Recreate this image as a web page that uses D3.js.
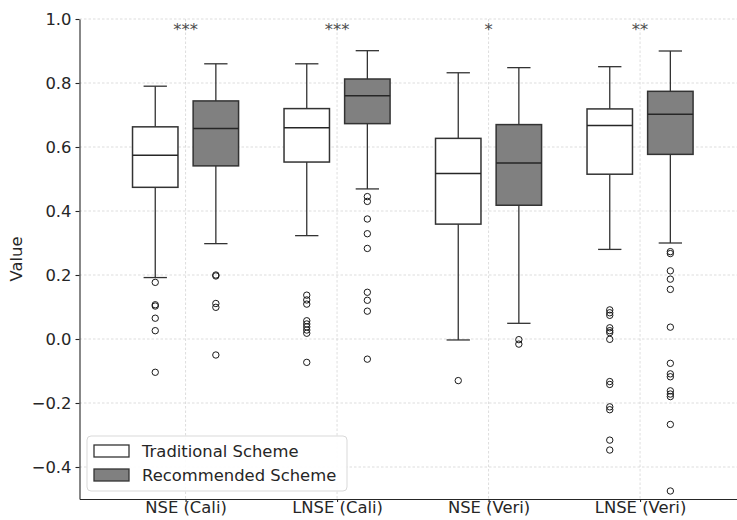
<!DOCTYPE html>
<html lang="en">
<head>
    <meta charset="UTF-8">
    <title>Traditional vs Recommended Scheme</title>
    <script src="https://d3js.org/d3.v7.min.js"></script>
    <style>
        body {
            margin: 0;
            background: #ffffff;
            font-family: "DejaVu Sans", sans-serif;
        }
        svg { display: block; }
        .axis text {
            font-family: "DejaVu Sans", sans-serif;
            font-size: 16.4px;
            fill: #262626;
        }
        .axis path, .axis line {
            stroke: #262626;
            stroke-width: 1.1;
        }
        .grid line {
            stroke: #d4d4d4;
            stroke-width: 0.8;
            stroke-dasharray: 2.5,2;
        }
        .legend-text {
            font-size: 16.4px;
            fill: #262626;
        }
    </style>
</head>
<body>
<svg id="chart" width="737" height="520"></svg>
<script>
    // chart data
    const categories = ["NSE (Cali)", "LNSE (Cali)", "NSE (Veri)", "LNSE (Veri)"];
    const schemes = ["Traditional Scheme", "Recommended Scheme"];
    const stars = ["***", "***", "*", "**"];
    const yTicks = [-0.4, -0.2, 0.0, 0.2, 0.4, 0.6, 0.8, 1.0];

    // Traditional Scheme box stats
    const tradLow = [0.192, 0.323, -0.003, 0.280];
    const tradQ1 = [0.474, 0.553, 0.359, 0.515];
    const tradMed = [0.574, 0.660, 0.517, 0.667];
    const tradQ3 = [0.663, 0.720, 0.627, 0.719];
    const tradHigh = [0.790, 0.860, 0.832, 0.851];
    const tradOutliers = [
        [0.177, 0.107, 0.103, 0.065, 0.026, -0.104],
        [0.137, 0.122, 0.109, 0.057, 0.047, 0.038, 0.028, 0.018, -0.073],
        [-0.130],
        [0.091, 0.082, 0.074, 0.035, 0.026, 0.020, -0.001, -0.133, -0.142, -0.212, -0.221, -0.316, -0.347]
    ];

    // Recommended Scheme box stats
    const recLow = [0.298, 0.469, 0.049, 0.300];
    const recQ1 = [0.541, 0.673, 0.418, 0.577];
    const recMed = [0.658, 0.760, 0.550, 0.702];
    const recQ3 = [0.744, 0.8125, 0.670, 0.774];
    const recHigh = [0.860, 0.901, 0.848, 0.900];
    const recOutliers = [
        [0.200, 0.197, 0.111, 0.099, -0.050],
        [0.445, 0.430, 0.375, 0.329, 0.283, 0.146, 0.121, 0.087, -0.063],
        [-0.002, -0.016],
        [0.273, 0.267, 0.213, 0.187, 0.155, 0.037, -0.076, -0.109, -0.118, -0.162, -0.172, -0.180, -0.267, -0.475]
    ];

    const fills = ["#ffffff", "#808080"];
    const edge = "#333333";

    const svg = d3.select("#chart");
    const plotTop = 19, plotBottom = 499, plotLeft = 79.5, step = 151.5;

    const x = d3.scaleLinear()
        .domain([0.3, 4.7])
        .range([plotLeft, plotLeft + 4.4 * step]);
    const y = d3.scaleLinear()
        .domain([-0.5, 1.0])
        .range([plotBottom, plotTop]);

    // grid
    const grid = svg.append("g").attr("class", "grid");
    grid.selectAll(".gy").data(yTicks).enter().append("line")
        .attr("x1", plotLeft).attr("x2", 737)
        .attr("y1", d => y(d)).attr("y2", d => y(d));
    grid.selectAll(".gx").data(categories).enter().append("line")
        .attr("x1", (d, i) => x(i + 1)).attr("x2", (d, i) => x(i + 1))
        .attr("y1", plotTop).attr("y2", plotBottom);

    // box data
    const boxes = [];
    categories.forEach((c, i) => {
        boxes.push({pos: i + 1 - 0.2, s: 0, low: tradLow[i], q1: tradQ1[i], med: tradMed[i], q3: tradQ3[i], high: tradHigh[i], out: tradOutliers[i]});
        boxes.push({pos: i + 1 + 0.2, s: 1, low: recLow[i], q1: recQ1[i], med: recMed[i], q3: recQ3[i], high: recHigh[i], out: recOutliers[i]});
    });

    const g = svg.append("g");
    const half = 0.15, cap = 0.077;

    boxes.forEach(b => {
        const bg = g.append("g");
        // whiskers
        bg.append("line")
            .attr("x1", x(b.pos)).attr("x2", x(b.pos))
            .attr("y1", y(b.q1)).attr("y2", y(b.low))
            .attr("stroke", edge).attr("stroke-width", 1.3);
        bg.append("line")
            .attr("x1", x(b.pos)).attr("x2", x(b.pos))
            .attr("y1", y(b.q3)).attr("y2", y(b.high))
            .attr("stroke", edge).attr("stroke-width", 1.3);
        [b.low, b.high].forEach(v => {
            bg.append("line")
                .attr("x1", x(b.pos - cap)).attr("x2", x(b.pos + cap))
                .attr("y1", y(v)).attr("y2", y(v))
                .attr("stroke", edge).attr("stroke-width", 1.3);
        });
        // box
        bg.append("rect")
            .attr("x", x(b.pos - half))
            .attr("y", y(b.q3))
            .attr("width", x(b.pos + half) - x(b.pos - half))
            .attr("height", y(b.q1) - y(b.q3))
            .attr("fill", fills[b.s])
            .attr("stroke", edge).attr("stroke-width", 1.5);
        // median
        bg.append("line")
            .attr("x1", x(b.pos - half)).attr("x2", x(b.pos + half))
            .attr("y1", y(b.med)).attr("y2", y(b.med))
            .attr("stroke", "#262626").attr("stroke-width", 1.5);
        // outliers
        bg.selectAll("circle").data(b.out).enter().append("circle")
            .attr("cx", x(b.pos))
            .attr("cy", d => y(d))
            .attr("r", 3.2)
            .attr("fill", "none")
            .attr("stroke", "#1a1a1a")
            .attr("stroke-width", 1);
    });

    // significance stars
    g.selectAll(".star").data(stars).enter().append("text")
        .attr("x", (d, i) => x(i + 1))
        .attr("y", 35)
        .attr("text-anchor", "middle")
        .attr("font-size", "16.4px")
        .attr("fill", "#4d4d4d")
        .text(d => d);

    // axes
    svg.append("g")
        .attr("class", "axis")
        .attr("transform", `translate(${plotLeft},0)`)
        .call(d3.axisLeft(y).tickValues(yTicks).tickFormat(d3.format(".1f")).tickSize(4).tickSizeOuter(0).tickPadding(4))
        .call(a => a.selectAll("text").attr("dy", "0.35em"));

    svg.append("g")
        .attr("class", "axis")
        .attr("transform", `translate(0,${plotBottom})`)
        .call(d3.axisBottom(x).tickValues([1, 2, 3, 4]).tickFormat(d => categories[d - 1]).tickSize(3).tickSizeOuter(0).tickPadding(1))
        .call(a => a.selectAll("text").attr("dy", "0.62em"));

    svg.append("text")
        .attr("transform", `translate(22,${(plotTop + plotBottom) / 2}) rotate(-90)`)
        .attr("text-anchor", "middle")
        .attr("font-size", "16.4px")
        .attr("fill", "#262626")
        .text("Value");

    // legend
    const legend = svg.append("g").attr("transform", "translate(87,436)");
    legend.append("rect")
        .attr("width", 260).attr("height", 55)
        .attr("rx", 4)
        .attr("fill", "#ffffff").attr("fill-opacity", 0.9)
        .attr("stroke", "#d9d9d9").attr("stroke-width", 1);
    schemes.forEach((s, i) => {
        legend.append("rect")
            .attr("x", 7).attr("y", 9 + i * 24)
            .attr("width", 35).attr("height", 12)
            .attr("fill", fills[i])
            .attr("stroke", edge).attr("stroke-width", 1.3);
        legend.append("text")
            .attr("class", "legend-text")
            .attr("x", 55).attr("y", 21 + i * 24)
            .text(s);
    });
</script>
</body>
</html>
